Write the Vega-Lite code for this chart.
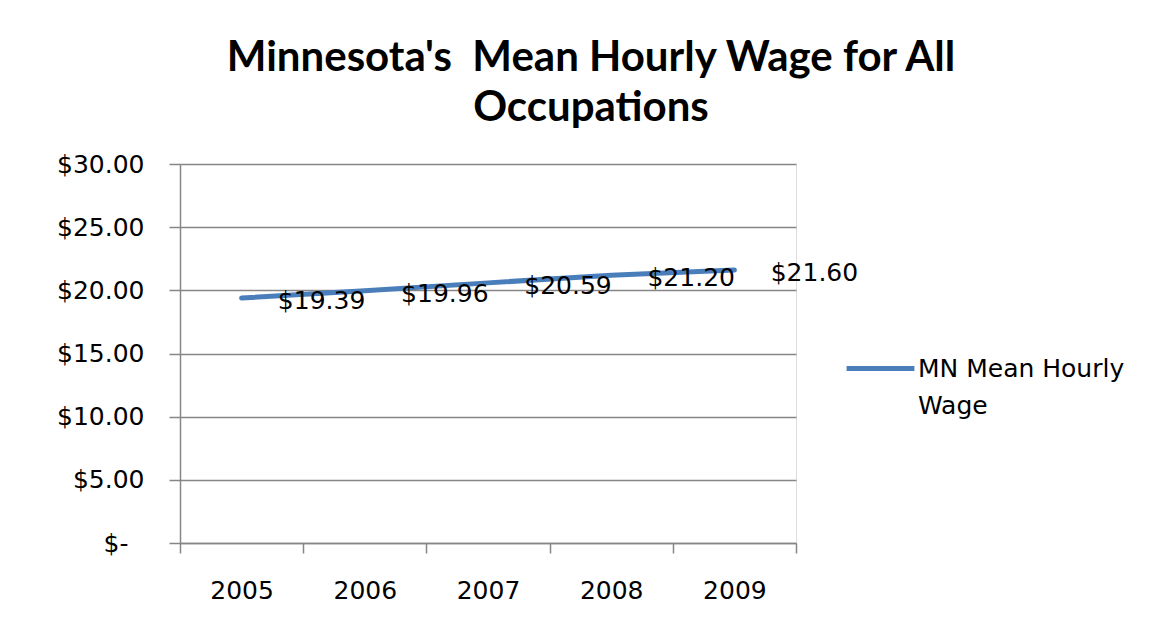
{
  "$schema": "https://vega.github.io/schema/vega-lite/v6.json",
  "autosize": "none",
  "width": 616,
  "height": 379,
  "padding": {"left": 180, "top": 164, "right": 371, "bottom": 90},
  "background": "white",
  "title": {
    "text": ["Minnesota's\u00a0 Mean Hourly Wage for All", "Occupations"],
    "font": "Lato",
    "fontSize": 42,
    "fontWeight": "bold",
    "color": "#000000",
    "anchor": "middle",
    "frame": "group",
    "dx": 103,
    "lineHeight": 50,
    "offset": 22
  },
  "data": {
    "values": [
      {"year": "2005", "wage": 19.39, "series": "MN Mean Hourly Wage"},
      {"year": "2006", "wage": 19.96, "series": "MN Mean Hourly Wage"},
      {"year": "2007", "wage": 20.59, "series": "MN Mean Hourly Wage"},
      {"year": "2008", "wage": 21.20, "series": "MN Mean Hourly Wage"},
      {"year": "2009", "wage": 21.60, "series": "MN Mean Hourly Wage"}
    ]
  },
  "encoding": {
    "x": {
      "field": "year",
      "type": "ordinal",
      "title": null,
      "scale": {"paddingInner": 0, "paddingOuter": 0},
      "axis": {
        "labelAngle": 0,
        "tickBand": "extent",
        "tickSize": 10,
        "labelPadding": 25,
        "labelFont": "DejaVu Sans",
        "labelFontSize": 25,
        "labelColor": "#000000",
        "domainColor": "#868686",
        "tickColor": "#868686",
        "domainWidth": 1.5,
        "tickWidth": 1.5,
        "grid": false
      }
    },
    "y": {
      "field": "wage",
      "type": "quantitative",
      "title": null,
      "scale": {"domain": [0, 30], "nice": false},
      "axis": {
        "values": [0, 5, 10, 15, 20, 25, 30],
        "labelExpr": "datum.value == 0 ? '$-' : '$' + format(datum.value, '.2f')",
        "tickSize": 11,
        "labelPadding": {"condition": {"test": "datum.value == 0", "value": 41}, "value": 25},
        "labelFont": "DejaVu Sans",
        "labelFontSize": 25,
        "labelColor": "#000000",
        "domainColor": "#868686",
        "tickColor": "#868686",
        "gridColor": "#868686",
        "domainWidth": 1.5,
        "tickWidth": 1.5,
        "gridWidth": 1.5,
        "grid": true
      }
    }
  },
  "layer": [
    {
      "mark": {"type": "line", "strokeWidth": 5, "strokeCap": "round"},
      "encoding": {
        "color": {
          "field": "series",
          "type": "nominal",
          "scale": {"range": ["#4A7EBB"]},
          "legend": {
            "title": null,
            "orient": "none",
            "legendX": 664,
            "legendY": 168,
            "symbolType": "stroke",
            "symbolSize": 4600,
            "symbolStrokeWidth": 5,
            "labelFont": "DejaVu Sans",
            "labelFontSize": 25,
            "labelColor": "#000000",
            "labelOffset": 1,
            "labelExpr": "['MN Mean Hourly', 'Wage']",
            "labelLimit": 400,
            "encode": {"labels": {"update": {"lineHeight": {"value": 37}}}}
          }
        }
      }
    },
    {
      "mark": {"type": "text", "font": "DejaVu Sans", "fontSize": 25, "color": "#000000", "dx": 80, "dy": 3, "align": "center", "baseline": "middle"},
      "encoding": {
        "text": {"field": "wage", "type": "quantitative", "format": "$.2f"}
      }
    }
  ]
}
